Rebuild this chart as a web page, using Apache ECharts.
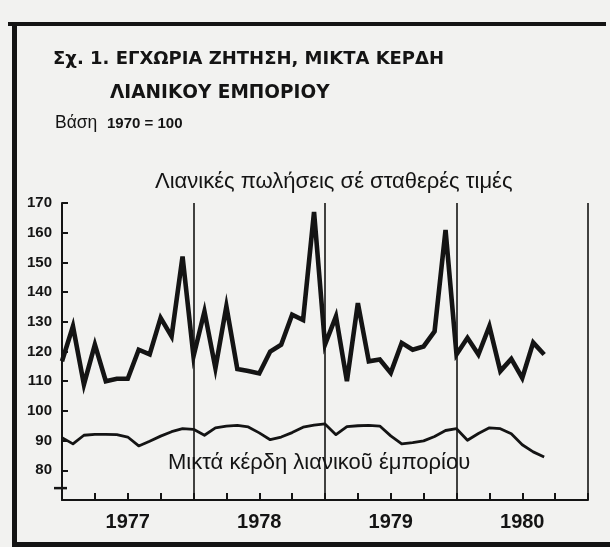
<!DOCTYPE html>
<html><head><meta charset="utf-8">
<script src="https://cdn.jsdelivr.net/npm/echarts@6/dist/echarts.min.js"></script>
<style>html,body{margin:0;padding:0;background:#f2f2f0}#c{width:610px;height:547px}</style>
</head><body><div id="c"></div>
<script>
// ---- data (monthly, Jan 1977 = index 0) ----
const yearLabels = ['1977', '1978', '1979', '1980'];
const salesValues = [
  116.7, 128.5, 108.9, 122.3, 110.0, 110.8, 110.8, 120.6, 119.0, 131.3, 125.1, 152.0,
  118.4, 133.5, 114.4, 135.2, 114.1, 113.4, 112.6, 120.0, 122.3, 132.4, 130.6, 167.0,
  122.3, 131.8, 110.0, 136.3, 116.7, 117.3, 112.8, 122.9, 120.6, 121.7, 126.8, 160.9,
  119.0, 124.6, 119.0, 128.5, 113.4, 117.5, 111.1, 123.0, 119.0
];
const profitValues = [
  91.0, 88.9, 91.8, 92.1, 92.1, 92.0, 91.2, 88.2, 89.8, 91.5, 93.0, 94.0,
  93.8, 91.8, 94.3, 94.9, 95.1, 94.6, 92.6, 90.3, 91.2, 92.7, 94.5, 95.2,
  95.6, 92.0, 94.7, 95.0, 95.1, 94.9, 91.6, 88.9, 89.3, 89.9, 91.4, 93.4,
  94.0, 90.1, 92.4, 94.3, 94.0, 92.3, 88.6, 86.2, 84.5
];
const yMin = 70, yMax = 170, yStep = 10;
const axisBreakValue = 74;
const titleLine1 = 'Σχ. 1. ΕΓΧΩΡΙΑ ΖΗΤΗΣΗ, ΜΙΚΤΑ ΚΕΡΔΗ';
const titleLine2 = 'ΛΙΑΝΙΚΟΥ ΕΜΠΟΡΙΟΥ';
const baseWord = 'Βάση';
const baseText = '1970 = 100';
const salesLabel = 'Λιανικές πωλήσεις σέ σταθερές τιμές';
const profitLabel = 'Μικτά κέρδη λιανικοῦ έμπορίου';

const INK = '#141414';
const FONT = 'Liberation Sans';
const TFONT = 'DejaVu Sans';
const chart = echarts.init(document.getElementById('c'), null, {renderer: 'canvas'});

const salesData = salesValues.map((v, i) => [i, v]);
const profitData = profitValues.map((v, i) => [i, v]);
const nMonths = yearLabels.length * 12;

const option = {
  backgroundColor: '#f2f2f0',
  animation: false,
  grid: {left: 62, right: 22, top: 203, bottom: 47},
  xAxis: [{
    type: 'value', min: 0, max: nMonths, interval: 3,
    axisLine: {lineStyle: {color: INK, width: 2}},
    axisTick: {inside: true, length: 7, lineStyle: {color: INK, width: 2}},
    splitLine: {show: false},
    axisLabel: {
      formatter: v => (v % 12 === 6 ? yearLabels[(v - 6) / 12] : ''),
      margin: 12, color: INK, fontSize: 20, fontWeight: 'bold', fontFamily: FONT
    }
  }, {
    type: 'value', min: 0, max: nMonths, interval: 12, position: 'bottom',
    axisLine: {show: false}, axisTick: {show: false}, axisLabel: {show: false},
    splitLine: {show: true, lineStyle: {color: INK, width: 1.6}}
  }],
  yAxis: {
    type: 'value', min: yMin, max: yMax, interval: yStep,
    axisLine: {show: true, lineStyle: {color: INK, width: 2}},
    axisTick: {show: true, inside: true, length: 6, lineStyle: {color: INK, width: 2}},
    splitLine: {show: false},
    axisLabel: {
      formatter: v => (v === yMin ? '' : String(v)),
      margin: 10, color: INK, fontSize: 15, fontWeight: 'bold', fontFamily: FONT
    }
  },
  series: [{
    type: 'line', data: salesData, showSymbol: false, xAxisIndex: 0,
    lineStyle: {color: INK, width: 4.6, join: 'miter', miterLimit: 6}
  }, {
    type: 'line', data: profitData, showSymbol: false, xAxisIndex: 0,
    lineStyle: {color: INK, width: 2.8, join: 'round'}
  }]
};
chart.setOption(option);

const p = chart.convertToPixel({gridIndex: 0}, [0, axisBreakValue]);
const txt = (x, y, text, size, weight, family) => ({
  type: 'text', left: x, top: y - size * 0.6,
  style: {text, fill: INK, font: `${weight} ${size}px "${family || FONT}"`}
});
chart.setOption({
  graphic: [
    {type: 'rect', shape: {x: 12, y: 22, width: 5, height: 525}, style: {fill: INK}},
    {type: 'rect', shape: {x: 8, y: 22, width: 598, height: 4}, style: {fill: INK}},
    {type: 'rect', shape: {x: 12, y: 542, width: 598, height: 5}, style: {fill: INK}},
    {type: 'line', shape: {x1: p[0] - 8, y1: p[1], x2: p[0] + 5, y2: p[1]}, style: {stroke: INK, lineWidth: 2.5}},
    txt(53, 61, titleLine1, 18, 'bold', TFONT),
    txt(110, 95, titleLine2, 18.5, 'bold', TFONT),
    txt(55, 125, baseWord, 17.5, 'normal'),
    txt(107, 125, baseText, 15, 'bold'),
    txt(155, 184, salesLabel, 22, 'normal'),
    txt(168, 465, profitLabel, 22, 'normal')
  ]
});
</script></body></html>
